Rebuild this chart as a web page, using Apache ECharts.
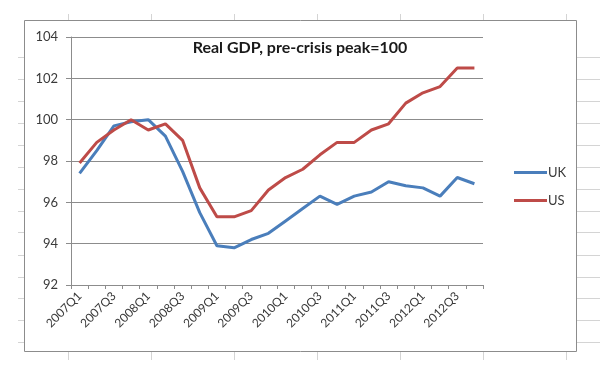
<!DOCTYPE html>
<html>
<head>
<meta charset="utf-8">
<script src="https://cdn.jsdelivr.net/npm/echarts@6/dist/echarts.min.js"></script>
<style>html,body{margin:0;padding:0;background:#fff}#c{width:600px;height:365px}</style>
</head>
<body>
<div id="c"></div>
<script>
var categories = ['2007Q1','2007Q2','2007Q3','2007Q4','2008Q1','2008Q2','2008Q3','2008Q4',
  '2009Q1','2009Q2','2009Q3','2009Q4','2010Q1','2010Q2','2010Q3','2010Q4',
  '2011Q1','2011Q2','2011Q3','2011Q4','2012Q1','2012Q2','2012Q3','2012Q4'];
var ukValues = [97.4, 98.5, 99.7, 99.9, 100.0, 99.2, 97.5, 95.5, 93.9, 93.8, 94.2, 94.5,
  95.1, 95.7, 96.3, 95.9, 96.3, 96.5, 97.0, 96.8, 96.7, 96.3, 97.2, 96.9];
var usValues = [97.9, 98.9, 99.5, 100.0, 99.5, 99.8, 99.0, 96.7, 95.3, 95.3, 95.6, 96.6,
  97.2, 97.6, 98.3, 98.9, 98.9, 99.5, 99.8, 100.8, 101.3, 101.6, 102.5, 102.5];
var yTicks = [92, 94, 96, 98, 100, 102, 104];
var titleText = 'Real GDP, pre-crisis peak=100';
var seriesNames = ['UK', 'US'];

var FONT = 'Lato';
var TXT = '#3a3a3a';
var GRIDC = '#8c8c8c';

// faint spreadsheet cell lines outside the chart frame
var deco = [];
var rowsY = [57, 79, 101, 123, 145, 167, 189, 211, 232, 255, 277, 298, 320, 342];
rowsY.forEach(function (y) {
  deco.push({type: 'line', shape: {x1: 18, y1: y + 0.5, x2: 24, y2: y + 0.5}, style: {stroke: '#d4d4d4', lineWidth: 1}, silent: true});
  deco.push({type: 'line', shape: {x1: 577, y1: y + 0.5, x2: 600, y2: y + 0.5}, style: {stroke: '#d4d4d4', lineWidth: 1}, silent: true});
});
var colsX = [68, 151, 234, 317, 400, 483, 566];
colsX.forEach(function (x) {
  deco.push({type: 'line', shape: {x1: x + 0.5, y1: 14, x2: x + 0.5, y2: 20}, style: {stroke: '#d4d4d4', lineWidth: 1}, silent: true});
  deco.push({type: 'line', shape: {x1: x + 0.5, y1: 352, x2: x + 0.5, y2: 360}, style: {stroke: '#d4d4d4', lineWidth: 1}, silent: true});
});
deco.push({type: 'rect', shape: {x: 24.5, y: 20.5, width: 552, height: 331},
  style: {fill: 'none', stroke: '#8c8c8c', lineWidth: 1}, silent: true, z: 10});

var chart = echarts.init(document.getElementById('c'), null, {renderer: 'canvas'});
chart.setOption({
  animation: false,
  backgroundColor: '#fff',
  graphic: deco,
  title: {
    text: titleText,
    left: 'center',
    top: 35,
    textStyle: {fontFamily: FONT, fontWeight: 'bold', fontSize: 16, color: '#1a1a1a'}
  },
  legend: {
    orient: 'vertical',
    left: 509,
    top: 161,
    itemGap: 15,
    itemWidth: 33,
    itemHeight: 3,
    icon: 'rect',
    data: seriesNames,
    textStyle: {fontFamily: FONT, fontSize: 13, color: TXT, padding: [0, 0, 0, -4]}
  },
  grid: {left: 71, right: 117, top: 37, bottom: 80, containLabel: false},
  xAxis: {
    type: 'category',
    data: categories,
    boundaryGap: true,
    axisLine: {show: true, lineStyle: {color: GRIDC, width: 1}},
    axisTick: {show: true, interval: 0, length: 4, lineStyle: {color: GRIDC}},
    axisLabel: {interval: 1, rotate: 45, margin: 9, fontFamily: FONT, fontSize: 12, color: TXT},
    splitLine: {show: false}
  },
  yAxis: {
    type: 'value',
    min: yTicks[0],
    max: yTicks[yTicks.length - 1],
    interval: 2,
    axisLine: {show: true, lineStyle: {color: GRIDC, width: 1}},
    axisTick: {show: true, length: 5, lineStyle: {color: GRIDC}},
    axisLabel: {margin: 13, fontFamily: FONT, fontSize: 13, color: TXT},
    splitLine: {show: true, lineStyle: {color: GRIDC, width: 1}}
  },
  series: [
    {name: seriesNames[0], type: 'line', data: ukValues, symbol: 'none',
     lineStyle: {color: '#4a7ebb', width: 3}, itemStyle: {color: '#4a7ebb'}},
    {name: seriesNames[1], type: 'line', data: usValues, symbol: 'none',
     lineStyle: {color: '#be4b48', width: 3}, itemStyle: {color: '#be4b48'}}
  ]
});
</script>
</body>
</html>
